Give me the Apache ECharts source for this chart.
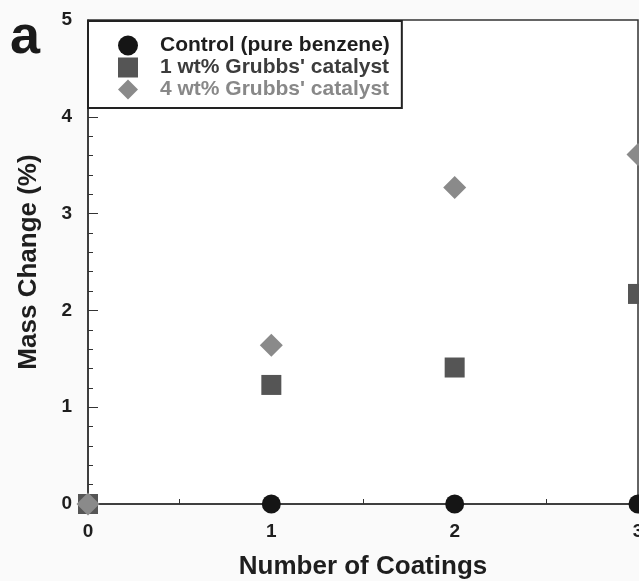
<!DOCTYPE html>
<html>
<head>
  <meta charset="utf-8">
  <script src="https://cdn.jsdelivr.net/npm/echarts@6/dist/echarts.min.js"></script>
  <style>
    * { margin: 0; padding: 0; }
    html, body { background: #fafafa; overflow: hidden; }
    #chart { width: 639px; height: 581px; }
    #tag { position: absolute; left: 10px; top: 3px; line-height: 1; font: bold 54px "Liberation Sans", Arial, sans-serif; color: #1a1a1a; }
  </style>
</head>
<body>
  <div id="chart"></div>
  <div id="tag">a</div>
  <script>
    // number of coatings
    var coatings = [0, 1, 2, 3];
    // mass change (%)
    var control = [0, 0, 0, 0];
    var grubbs1 = [0, 1.23, 1.41, 2.17];
    var grubbs4 = [0, 1.64, 3.27, 3.61];
    var names = ['Control (pure benzene)', "1 wt% Grubbs' catalyst", "4 wt% Grubbs' catalyst"];

    function pairs(ys) {
      return coatings.map(function (x, i) { return [x, ys[i]]; });
    }

    var font = '"Liberation Sans", Arial, sans-serif';
    var chart = echarts.init(document.getElementById('chart'));
    chart.setOption({
      animation: false,
      grid: {
        left: 88, right: 1, top: 20, bottom: 77,
        outerBoundsMode: 'none', containLabel: false,
        show: true, backgroundColor: '#fff', borderColor: '#333', borderWidth: 1.5
      },
      legend: {
        orient: 'vertical',
        left: 88, top: 21,
        padding: [14, 12, 8, 30],
        backgroundColor: '#fff',
        borderColor: '#222', borderWidth: 2,
        itemWidth: 20, itemHeight: 20, itemGap: 1,
        textStyle: { fontFamily: font, fontWeight: 'bold', fontSize: 21, padding: [0, 0, 0, 17] },
        data: [
          { name: names[0], icon: 'circle', textStyle: { color: '#1e1e1e' } },
          { name: names[1], icon: 'rect', textStyle: { color: '#3c3c3c' } },
          { name: names[2], icon: 'diamond', textStyle: { color: '#888' } }
        ]
      },
      xAxis: {
        type: 'value', min: 0, max: 3, interval: 1,
        name: 'Number of Coatings', nameLocation: 'middle', nameGap: 50,
        nameTextStyle: { fontFamily: font, fontWeight: 'bold', fontSize: 26, color: '#1e1e1e' },
        axisLine: { onZero: false, lineStyle: { color: '#333', width: 1.5 } },
        axisTick: { inside: true, length: 8, lineStyle: { color: '#333' } },
        minorTick: { show: true, splitNumber: 2, length: 5, lineStyle: { color: '#333' } },
        axisLabel: { fontFamily: font, fontWeight: 'bold', fontSize: 19, color: '#1e1e1e', margin: 18 },
        splitLine: { show: false }
      },
      yAxis: {
        type: 'value', min: 0, max: 5, interval: 1,
        name: 'Mass Change (%)', nameLocation: 'middle', nameGap: 46,
        nameTextStyle: { fontFamily: font, fontWeight: 'bold', fontSize: 26, color: '#1e1e1e' },
        axisLine: { lineStyle: { color: '#333', width: 1.5 } },
        axisTick: { inside: true, length: 10, lineStyle: { color: '#333' } },
        minorTick: { show: true, splitNumber: 5, length: 5, lineStyle: { color: '#333' } },
        axisLabel: { fontFamily: font, fontWeight: 'bold', fontSize: 19, color: '#1e1e1e', margin: 16 },
        splitLine: { show: false }
      },
      series: [
        { name: names[0], type: 'scatter', symbol: 'circle', symbolSize: 19, clip: false,
          itemStyle: { color: '#151515', opacity: 1 }, data: pairs(control) },
        { name: names[1], type: 'scatter', symbol: 'rect', symbolSize: 20, clip: false,
          itemStyle: { color: '#555', opacity: 1 }, data: pairs(grubbs1) },
        { name: names[2], type: 'scatter', symbol: 'diamond', symbolSize: 23, clip: false,
          itemStyle: { color: '#8a8a8a', opacity: 1 }, data: pairs(grubbs4) }
      ]
    });
  </script>
</body>
</html>
